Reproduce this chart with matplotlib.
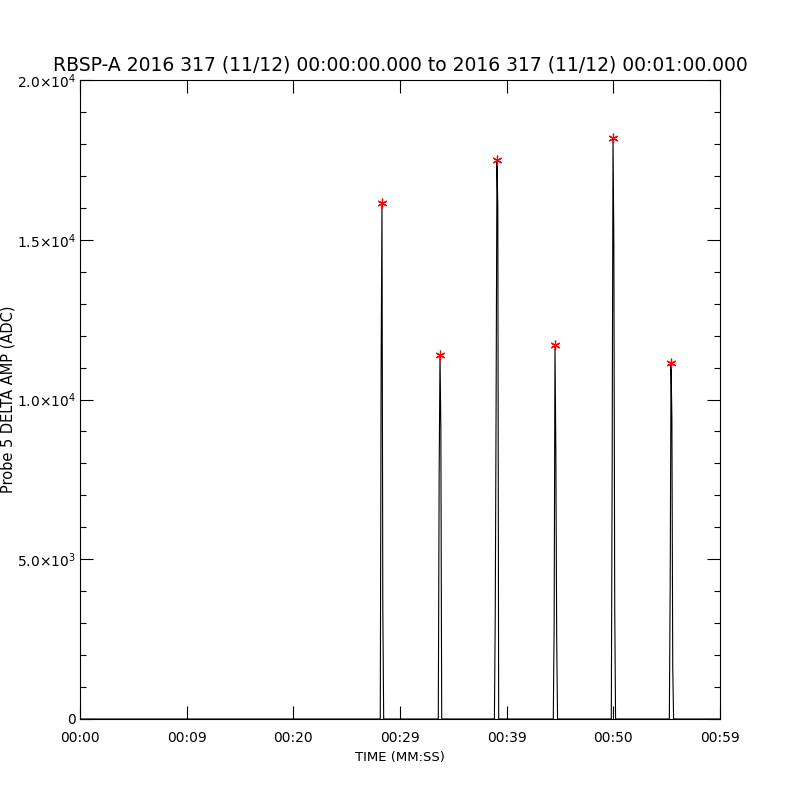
import matplotlib
matplotlib.use("Agg")
import matplotlib.pyplot as plt
import numpy as np

# ---- data ----
title = "RBSP-A 2016 317 (11/12) 00:00:00.000 to 2016 317 (11/12) 00:01:00.000"
x_ticklabels = ["00:00", "00:09", "00:20", "00:29", "00:39", "00:50", "00:59"]
y_ticks = [0, 5000, 10000, 15000, 20000]
y_ticklabels = ["0", r"5.0$\times$10$^3$", r"1.0$\times$10$^4$", r"1.5$\times$10$^4$", r"2.0$\times$10$^4$"]

spike1_t = [28.15, 28.23, 28.31, 28.39, 28.47]
spike1_v = [0, 11000, 16150, 3400, 0]
spike2_t = [33.59, 33.67, 33.75, 33.83, 33.91]
spike2_v = [0, 7600, 11400, 9100, 0]
spike3_t = [38.85, 38.93, 39.01, 39.09, 39.17, 39.25]
spike3_v = [0, 3300, 9900, 17500, 16000, 0]
spike4_t = [44.37, 44.45, 44.53, 44.61, 44.69, 44.77]
spike4_v = [0, 2900, 11700, 8400, 2500, 0]
spike5_t = [49.81, 49.89, 49.97, 50.05, 50.13, 50.21]
spike5_v = [0, 7900, 18200, 14800, 3500, 0]
spike6_t = [55.25, 55.33, 55.41, 55.49, 55.57, 55.65]
spike6_v = [0, 4200, 11150, 9400, 1600, 0]

spikes_t = [spike1_t, spike2_t, spike3_t, spike4_t, spike5_t, spike6_t]
spikes_v = [spike1_v, spike2_v, spike3_v, spike4_v, spike5_v, spike6_v]

t_all = [0.0] + [t for s in spikes_t for t in s] + [60.0]
v_all = [0] + [v for s in spikes_v for v in s] + [0]

peak_t = [s_t[int(np.argmax(s_v))] for s_t, s_v in zip(spikes_t, spikes_v)]
peak_v = [max(s_v) for s_v in spikes_v]

# ---- figure ----
fig = plt.figure(figsize=(8, 8), dpi=100)
ax = fig.add_axes([0.1, 0.10125, 0.8, 0.79875])

ax.plot(t_all, v_all, color="black", linewidth=0.8)
ax.plot(peak_t, peak_v, linestyle="none", marker=(6, 2, 0), color="red",
        markersize=7, markeredgewidth=0.9)

ax.set_xlim(0, 60)
ax.set_ylim(0, 20000)
ax.set_xticks(np.linspace(0, 60, len(x_ticklabels)))
ax.set_xticklabels(x_ticklabels)
ax.set_yticks(y_ticks)
ax.set_yticklabels(y_ticklabels)
ax.set_yticks(np.arange(0, 20001, 1000), minor=True)

ax.tick_params(axis="both", which="major", direction="in", length=9.4, width=0.8,
               top=True, right=True, labelsize=10)
ax.tick_params(axis="y", which="minor", direction="in", length=4.3, width=0.8,
               left=True, right=True)
ax.tick_params(axis="x", which="major", pad=9)
ax.tick_params(axis="y", which="major", pad=3)
for sp in ax.spines.values():
    sp.set_linewidth(0.8)

ax.set_title(title, fontsize=13.5, pad=7)
ax.set_xlabel("TIME (MM:SS)", fontsize=9.5, labelpad=4)
ax.set_ylabel("Probe 5 DELTA AMP (ADC)", fontsize=10.5, labelpad=4)
ax.yaxis.set_label_coords(-0.1, 0.5)

fig.savefig("out.png", dpi=100)
